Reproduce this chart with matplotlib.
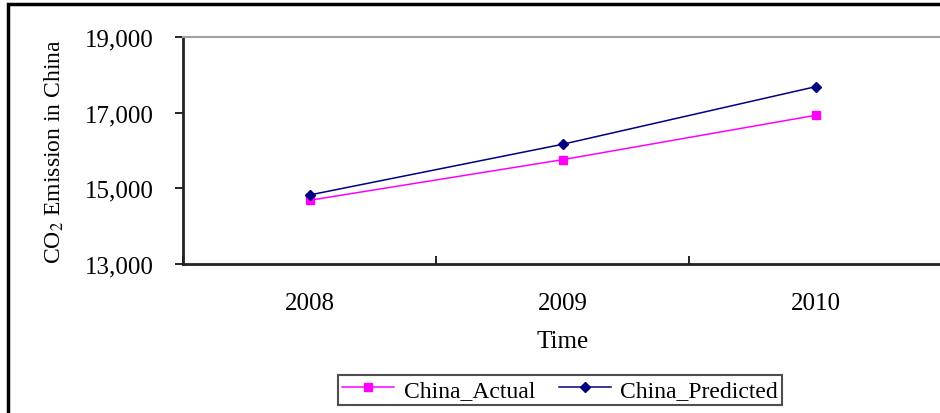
import matplotlib.pyplot as plt
from matplotlib.patches import Rectangle

years = ["2008", "2009", "2010"]
china_actual = [14684, 15757, 16930]
china_predicted = [14824, 16164, 17686]
y_ticks = [13000, 15000, 17000, 19000]

plt.rcParams['font.family'] = ['Liberation Serif', 'DejaVu Serif']
plt.rcParams['mathtext.fontset'] = 'stix'

fig = plt.figure(figsize=(9.4, 4.14), dpi=100)
ax = fig.add_axes([183/940, 1 - 265/414, 759/940, 227/414])

x = range(len(years))
ax.plot(x, china_actual, color="#FF00FF", marker="s", markersize=6,
        linewidth=1.1, label="China_Actual")
ax.plot(x, china_predicted, color="#000080", marker="D", markersize=5.5,
        linewidth=1.1, label="China_Predicted")

ax.set_xlim(-0.5, len(years) - 0.5)
ax.set_ylim(13000, 19000)
ax.set_yticks(y_ticks)
ax.set_yticklabels([f"{v:,}" for v in y_ticks], fontsize=18)
ax.set_xticks(list(x))
ax.set_xticklabels(years, fontsize=18)
ax.set_xticks([i - 0.5 for i in range(len(years) + 1)], minor=True)
ax.tick_params(axis="x", which="major", length=0, pad=20)
ax.tick_params(axis="x", which="minor", direction="in", length=6, width=1.2)
ax.tick_params(axis="y", direction="out", length=6, width=1.2, pad=15)

for s in ["left", "bottom"]:
    ax.spines[s].set_color("#222222")
    ax.spines[s].set_linewidth(2)
ax.spines["top"].set_color("#a0a0a0")
ax.spines["top"].set_linewidth(1.5)
ax.spines["right"].set_visible(False)

ax.set_xlabel("Time", fontsize=18, labelpad=12)
ax.set_ylabel("CO$_2$ Emission in China", fontsize=17, labelpad=14)

leg = fig.legend(loc="center", bbox_to_anchor=(560/940, 1 - 391/414),
                 ncol=2, fontsize=17, frameon=True, fancybox=False,
                 handlelength=2.2, handletextpad=0.4, columnspacing=1.0,
                 borderpad=0.2)
leg.get_frame().set_edgecolor("#222222")
leg.get_frame().set_linewidth(1.5)

fig.patches.append(Rectangle((8/940, -0.05), 1.1, 1 - 5/414 + 0.05,
                             transform=fig.transFigure, fill=False,
                             edgecolor="black", linewidth=2.5))

fig.savefig("out.png", dpi=100)
